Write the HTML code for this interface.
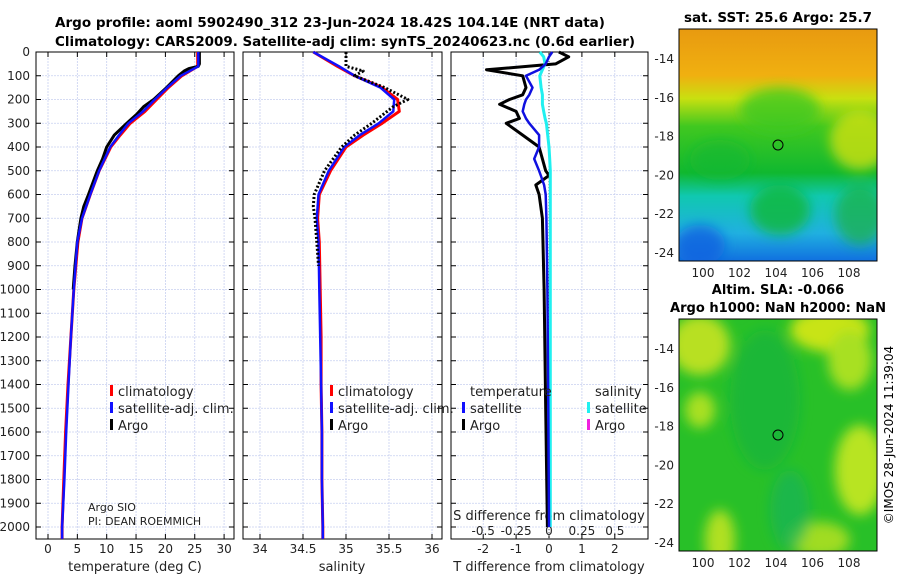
<!DOCTYPE html>
<html><head><meta charset="utf-8"><style>
html,body{margin:0;padding:0;background:#fff;}
svg{display:block;font-family:"DejaVu Sans","Liberation Sans",sans-serif;}
</style></head><body>
<svg id="fig" width="900" height="580" viewBox="0 0 900 580">
<defs>
<linearGradient id="sstgrad" x1="0" y1="0" x2="0" y2="1">
<stop offset="0" stop-color="#e89a10"/><stop offset="0.2" stop-color="#f0b010"/>
<stop offset="0.3" stop-color="#c8e010"/><stop offset="0.42" stop-color="#40c820"/>
<stop offset="0.62" stop-color="#10b830"/><stop offset="0.72" stop-color="#10c8b0"/>
<stop offset="0.88" stop-color="#20b0e0"/><stop offset="1" stop-color="#1070e0"/>
</linearGradient>
<filter id="blur8"><feGaussianBlur stdDeviation="6"/></filter>
<clipPath id="m1clip"><rect x="679" y="29" width="198" height="232"/></clipPath>
<clipPath id="m2clip"><rect x="679" y="319" width="198" height="232"/></clipPath>
</defs>
<g id="titles" font-weight="bold" font-size="13" fill="#000">
<text x="55" y="27" textLength="550" lengthAdjust="spacingAndGlyphs">Argo profile: aoml 5902490_312 23-Jun-2024 18.42S 104.14E (NRT data)</text>
<text x="55" y="46" textLength="580" lengthAdjust="spacingAndGlyphs">Climatology: CARS2009. Satellite-adj clim: synTS_20240623.nc (0.6d earlier)</text>
<text x="778" y="22" text-anchor="middle" textLength="188" lengthAdjust="spacingAndGlyphs">sat. SST: 25.6 Argo: 25.7</text>
<text x="778" y="294" text-anchor="middle">Altim. SLA: -0.066</text>
<text x="778" y="312" text-anchor="middle" textLength="216" lengthAdjust="spacingAndGlyphs">Argo h1000: NaN h2000: NaN</text>
</g>
<g id="plots"></g>
<g id="map1">
<g clip-path="url(#m1clip)">
<rect x="679" y="29" width="198" height="232" fill="url(#sstgrad)"/>
<g filter="url(#blur8)">
<ellipse cx="780" cy="110" rx="40" ry="22" fill="#40c820" opacity="0.8"/>
<ellipse cx="720" cy="160" rx="30" ry="20" fill="#18b830" opacity="0.6"/>
<ellipse cx="860" cy="140" rx="30" ry="30" fill="#d0e010" opacity="0.8"/>
<ellipse cx="780" cy="210" rx="30" ry="25" fill="#10b838" opacity="0.8"/>
<ellipse cx="860" cy="215" rx="25" ry="30" fill="#18b040" opacity="0.7"/>
<ellipse cx="700" cy="245" rx="25" ry="20" fill="#1060e0" opacity="0.8"/>
</g>
</g>
<rect x="679" y="29" width="198" height="232" fill="none" stroke="#000"/>
<circle cx="778" cy="145" r="5" fill="none" stroke="#000"/>
</g>
<g id="map2">
<g clip-path="url(#m2clip)">
<rect x="679" y="319" width="198" height="232" fill="#28c028"/>
<g filter="url(#blur8)">
<ellipse cx="700" cy="345" rx="30" ry="30" fill="#b8e020"/>
<ellipse cx="830" cy="330" rx="40" ry="22" fill="#c8e418"/>
<ellipse cx="850" cy="360" rx="22" ry="30" fill="#a8e020"/>
<ellipse cx="700" cy="410" rx="15" ry="18" fill="#a8e020"/>
<ellipse cx="860" cy="470" rx="25" ry="45" fill="#b8e420"/>
<ellipse cx="720" cy="540" rx="15" ry="30" fill="#b0e020"/>
<ellipse cx="820" cy="540" rx="30" ry="18" fill="#a0dc20"/>
<ellipse cx="765" cy="400" rx="35" ry="70" fill="#10b040" opacity="0.6"/>
<ellipse cx="790" cy="510" rx="20" ry="40" fill="#10b060" opacity="0.6"/>
</g>
</g>
<rect x="679" y="319" width="198" height="232" fill="none" stroke="#000"/>
<circle cx="778" cy="435" r="5" fill="none" stroke="#000"/>
</g>
<text transform="translate(893,435) rotate(-90)" text-anchor="middle" font-size="12" fill="#000">©IMOS 28-Jun-2024 11:39:04</text>
</svg>
<script>
// ---- profile data ----
const climDepth = [0,60,100,150,200,250,300,350,400,500,600,700,800,1000,1200,1400,1600,1800,2000,2050];
const climTemp  = [25.5,25.5,22.8,20.5,18.5,16.5,14.0,12.3,10.7,8.7,7.2,5.8,5.1,4.4,3.9,3.4,3.0,2.7,2.4,2.4];
const satTemp   = [25.6,25.6,22.6,20.3,18.2,16.2,13.7,12.1,10.6,8.7,7.2,5.8,5.0,4.4,3.9,3.5,3.1,2.8,2.4,2.4];
const argoTDepth = [0,50,60,70,80,100,150,200,230,260,300,350,400,450,500,600,650,700,800,900,1000];
const argoTemp   = [25.8,25.8,25.6,24.0,23.2,22.2,20.2,18.0,16.3,15.2,13.4,11.3,10.0,9.3,8.4,6.9,6.1,5.6,5.0,4.6,4.3];
const climSal = [34.62,34.9,35.1,35.42,35.6,35.62,35.42,35.2,35.0,34.82,34.69,34.67,34.69,34.70,34.71,34.71,34.72,34.72,34.73,34.73];
const satSal  = [34.62,34.92,35.1,35.4,35.56,35.55,35.38,35.16,34.98,34.8,34.68,34.66,34.68,34.69,34.70,34.71,34.72,34.72,34.73,34.73];
const argoSDepth = [0,30,60,80,100,150,200,230,300,350,400,500,600,650,700,800,900];
const argoSal    = [35.0,35.0,35.0,35.2,35.1,35.45,35.72,35.55,35.3,35.1,34.95,34.75,34.63,34.62,34.64,34.66,34.68];
const diffDepth  = [0,20,50,75,100,150,180,200,220,250,280,300,350,400,450,500,520,560,600,700,1000,1500,2000];
const argoTDiff  = [0.3,0.6,0.2,-1.9,-0.8,-0.7,-0.8,-1.2,-1.5,-1.0,-0.9,-1.3,-0.8,-0.3,-0.2,-0.1,0.0,-0.4,-0.3,-0.2,-0.15,-0.1,-0.05];
const satTDiff   = [0.1,0.0,-0.1,-0.3,-0.7,-0.5,-0.6,-0.7,-0.75,-0.8,-0.7,-0.6,-0.3,-0.3,-0.45,-0.3,-0.25,-0.15,-0.1,-0.08,-0.05,-0.02,0.0];
const satSDiff   = [-0.07,-0.04,-0.03,-0.05,-0.07,-0.06,-0.05,-0.05,-0.05,-0.04,-0.03,-0.02,-0.01,0.0,0.005,0.01,0.01,0.01,0.01,0.01,0.01,0.01,0.01];
const depthTicks = [0,100,200,300,400,500,600,700,800,900,1000,1100,1200,1300,1400,1500,1600,1700,1800,1900,2000];
const tempTicks = [0,5,10,15,20,25,30];
const salTicks = [34,34.5,35,35.5,36];
const tdiffTicks = [-2,-1,0,1,2];
const sdiffTicks = [-0.5,-0.25,0,0.25,0.5];
const lonTicks = [100,102,104,106,108];
const latTicks = [-14,-16,-18,-20,-22,-24];

const NS='http://www.w3.org/2000/svg';
const plots=document.getElementById('plots');
function mk(tag,attrs,parent){const e=document.createElementNS(NS,tag);for(const k in attrs)e.setAttribute(k,attrs[k]);(parent||plots).appendChild(e);return e;}
const yD = d => 52 + d*0.2375;
const xT = t => 48 + t*5.87;
const xS = s => 260 + (s-34)*86;
const xTD = t => 549 + t*32.9;
const xSD = s => 549 + s*4*32.9;
const panels=[[36,234],[243,442],[451,648]];
const TOP=52,BOT=539;

function frame(x0,x1,xticks,xf,name){
  const g=mk('g',{});
  
  
  xticks.forEach(v=>{const x=xf(v);mk('line',{x1:x,x2:x,y1:TOP,y2:BOT,stroke:'#c8d0f0','stroke-width':0.8,'stroke-dasharray':'2,1'},g);
    mk('line',{x1:x,x2:x,y1:BOT,y2:BOT-5,stroke:'#000'},g);mk('line',{x1:x,x2:x,y1:TOP,y2:TOP+5,stroke:'#000'},g);});
  depthTicks.forEach(d=>{const y=yD(d);mk('line',{x1:x0,x2:x1,y1:y,y2:y,stroke:'#c8d0f0','stroke-width':0.8,'stroke-dasharray':'2,1'},g);
    mk('line',{x1:x0,x2:x0+5,y1:y,y2:y,stroke:'#000'},g);mk('line',{x1:x1,x2:x1-5,y1:y,y2:y,stroke:'#000'},g);});
  mk('rect',{x:x0,y:TOP,width:x1-x0,height:BOT-TOP,fill:'none',stroke:'#000'},g);
  return g;
}
function line(xs,ds,xf,color,w,dash,name){
  const pts=xs.map((v,i)=>xf(v).toFixed(1)+','+yD(ds[i]).toFixed(1)).join(' ');
  const p=mk('polyline',{points:pts,fill:'none',stroke:color,'stroke-width':w,'stroke-linejoin':'round'});
  if(dash)p.setAttribute('stroke-dasharray',dash);
  
  
}
function txt(x,y,s,anchor,size,name){const t=mk('text',{x:x,y:y,'text-anchor':anchor||'start','font-size':size||12,fill:'#222'});t.textContent=s;
  
  return t;}

frame(36,234,tempTicks,xT,'temperature-panel');
frame(243,442,salTicks,xS,'salinity-panel');
frame(451,648,tdiffTicks,xTD,'difference-panel');
mk('line',{x1:549,x2:549,y1:TOP,y2:BOT,stroke:'#555','stroke-dasharray':'1,2'});
depthTicks.forEach(d=>txt(30,yD(d)+4,String(d),'end',12,'depth-tick-label'));
tempTicks.forEach(v=>txt(xT(v),553,String(v),'middle',12,'temp-tick-label'));
salTicks.forEach(v=>txt(xS(v),553,String(v),'middle',12,'sal-tick-label'));
tdiffTicks.forEach(v=>txt(xTD(v),553,String(v),'middle',12,'tdiff-tick-label'));
sdiffTicks.forEach(v=>txt(xSD(v),535,String(v),'middle',12,'sdiff-tick-label'));
txt(135,571,'temperature (deg C)','middle',13,'x-axis-title-temperature');
txt(342,571,'salinity','middle',13,'x-axis-title-salinity');
txt(549,571,'T difference from climatology','middle',13,'x-axis-title-tdiff');
txt(549,520,'S difference from climatology','middle',13,'x-axis-title-sdiff');

line(climTemp,climDepth,xT,'#f00',3,null,'temp-climatology-line');
line(argoTemp,argoTDepth,xT,'#000',3,null,'temp-argo-line');
line(satTemp,climDepth,xT,'#1010ff',2.5,null,'temp-satellite-line');
line(climSal,climDepth,xS,'#f00',3,null,'sal-climatology-line');
line(satSal,climDepth,xS,'#1010ff',2.5,null,'sal-satellite-line');
line(argoSal,argoSDepth,xS,'#000',3,'2,2','sal-argo-line');
line(argoTDiff,diffDepth,xTD,'#000',3,null,'tdiff-argo-line');
line(satSDiff,diffDepth,xSD,'#20f0f0',3,null,'sdiff-satellite-line');
line(satTDiff,diffDepth,xTD,'#1010e0',2.5,null,'tdiff-satellite-line');

function legend(x,y,items,name){items.forEach((it,i)=>{const yy=y+i*17;
  const r=mk('rect',{x:x,y:yy-11,width:3,height:11,fill:it[1]});
  
  
  txt(x+8,yy,it[0],'start',13,name+'-label');});}
legend(110,396,[['climatology','#f00'],['satellite-adj. clim.','#1010ff'],['Argo','#000']],'temp-legend');
legend(330,396,[['climatology','#f00'],['satellite-adj. clim.','#1010ff'],['Argo','#000']],'sal-legend');
txt(470,396,'temperature','start',13,'tdiff-legend-header');
txt(595,396,'salinity','start',13,'sdiff-legend-header');
legend(462,413,[['satellite','#1010ff'],['Argo','#000']],'tdiff-legend');
legend(587,413,[['satellite','#20f0f0'],['Argo','#f020e0']],'sdiff-legend');
txt(88,511,'Argo SIO','start',11,'data-source-label');
txt(88,525,'PI: DEAN ROEMMICH','start',11,'pi-label');

// map axes
const xLon = v => 703 + (v-100)*18.25;
function mapAxes(y0,y1,latBase){
  lonTicks.forEach(v=>{const x=xLon(v);mk('line',{x1:x,x2:x,y1:y1,y2:y1-4,stroke:'#000'});mk('line',{x1:x,x2:x,y1:y0,y2:y0+4,stroke:'#000'});
    txt(x,y1+16,String(v),'middle',12,'lon-tick-label');});
  latTicks.forEach(v=>{const y=latBase+(-14-v)*19.4;mk('line',{x1:679,x2:683,y1:y,y2:y,stroke:'#000'});mk('line',{x1:877,x2:873,y1:y,y2:y,stroke:'#000'});
    txt(674,y+4,String(v),'end',12,'lat-tick-label');});
}
mapAxes(29,261,59);
mapAxes(319,551,349);
</script>
</body></html>
